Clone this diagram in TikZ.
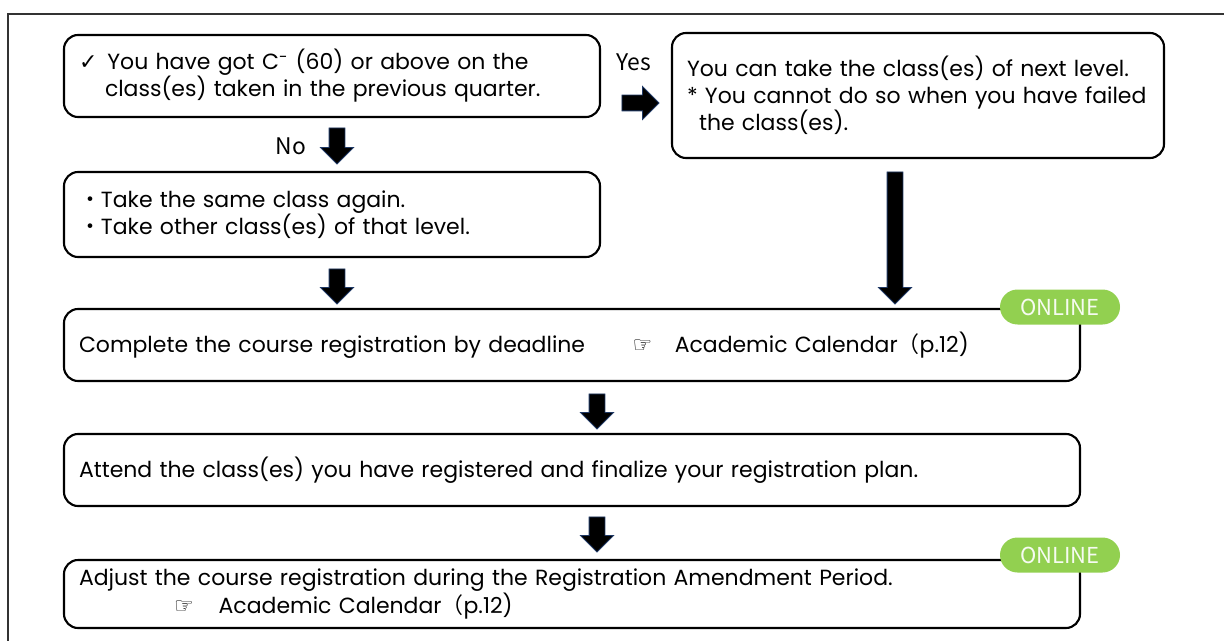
\documentclass[tikz,border=0pt]{standalone}
\usepackage{fontspec}
\setmainfont{Poppins}
\newfontfamily\cjk{Noto Sans CJK JP}
\newfontfamily\symfont{DejaVu Sans}
\usetikzlibrary{shapes.arrows,positioning}
\definecolor{onlinegreen}{RGB}{146,208,80}
\definecolor{arredge}{RGB}{31,56,100}
\tikzset{
  flowbox/.style={rectangle, rounded corners=8pt, draw=black, line width=1.2pt, fill=white,
                  align=left, inner xsep=0.3cm, inner ysep=0pt,
                  font=\fontsize{12.5}{15.4}\selectfont},
  badge/.style={rectangle, rounded corners=0.35cm, fill=onlinegreen, text=white!92!onlinegreen,
                minimum width=2.4cm, minimum height=0.7cm, inner sep=0pt,
                font=\cjk\fontsize{12.5}{12.5}\selectfont},
  blockarr/.style={single arrow, draw=arredge, fill=black, line width=0.5pt, inner sep=0.15cm,
                   minimum width=0.64cm, single arrow head extend=0.17cm},
  yesno/.style={font=\cjk\fontsize{13}{13}\selectfont},
}
\newcommand{\pointer}{{\symfont\fontsize{12.5}{12.5}\selectfont ☞}}
\newcommand{\jdot}{{\cjk ・}}
\newcommand{\jparen}{{\cjk （}}

\begin{document}
\begin{tikzpicture}
\useasboundingbox (0,0) rectangle (24.48,-12.82);

% outer frame (top and left edges only show)
\draw[black!80, line width=1pt] (0.16,-12.9) -- (0.16,-0.28) -- (24.6,-0.28);

% ===================== decision ==========================================
\node[flowbox, text width=10.12cm, minimum width=10.72cm, minimum height=1.64cm] (cond) at (6.64,-1.52)
  {{\symfont ✓}\hspace{0.2cm}You have got C\textsuperscript{-} (60) or above on the\\
   \hspace*{0.52cm}class(es) taken in the previous quarter.};
\node[flowbox, text width=9.24cm, minimum width=9.84cm, minimum height=2.5cm] (next) at (18.36,-1.91)
  {You can take the class(es) of next level.\\
   \mbox{*} You cannot do so when you have failed\\
   \hspace*{0.24cm}the class(es).};
\node[flowbox, text width=10.12cm, minimum width=10.72cm, minimum height=1.70cm] (again) at (6.64,-4.29)
  {\jdot Take the same class again.\\
   \jdot Take other class(es) of that level.};

\node[yesno] (yes) at (12.68,-1.24) {Yes};
\node[blockarr] (ayes) at (12.73,-2.06) [minimum height=0.74cm] {};
\node[yesno] (no) at (5.82,-2.92) {No};
\node[blockarr, rotate=-90] (ano) at (6.74,-2.84) [minimum height=0.72cm] {};

% ===================== registration steps ================================
\node[blockarr, rotate=-90] (a1) at (6.74,-5.65) [minimum height=0.70cm] {};
\node[blockarr, rotate=-90] (a2) at (17.90,-4.68) [minimum height=2.64cm] {};

\node[flowbox, text width=19.72cm, minimum width=20.32cm, minimum height=1.44cm] (reg) at (11.44,-6.90)
  {Complete the course registration by deadline\hspace{0.95cm}\pointer\hspace{0.45cm}Academic Calendar\jparen p.12)};
\node[badge] (onl1) at (21.2,-6.14) {ONLINE};

\node[blockarr, rotate=-90] (a3) at (11.94,-8.15) [minimum height=0.70cm] {};
\node[flowbox, text width=19.72cm, minimum width=20.32cm, minimum height=1.44cm] (attend) at (11.44,-9.40)
  {Attend the class(es) you have registered and finalize your registration plan.};

\node[blockarr, rotate=-90] (a4) at (11.94,-10.61) [minimum height=0.70cm] {};
\node[flowbox, text width=19.72cm, minimum width=20.32cm, minimum height=1.36cm] (adjust) at (11.44,-11.88)
  {Adjust the course registration during the Registration Amendment Period.\\
   \hspace*{1.9cm}\pointer\hspace{0.5cm}Academic Calendar\jparen p.12)};
\node[badge] (onl2) at (21.2,-11.10) {ONLINE};

\end{tikzpicture}
\end{document}
